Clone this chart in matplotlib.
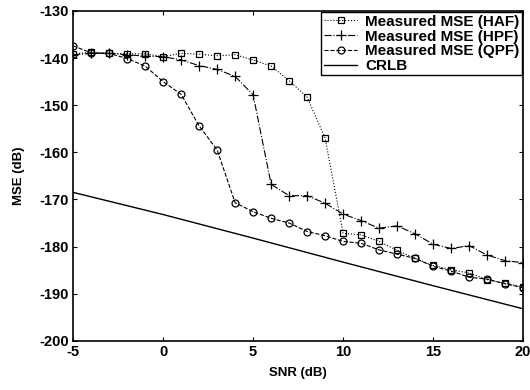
import numpy as np
import matplotlib
matplotlib.use('Agg')
import matplotlib.pyplot as plt

plt.rcParams['font.family'] = ['Liberation Sans', 'DejaVu Sans']
plt.rcParams['font.weight'] = 'bold'
plt.rcParams['axes.unicode_minus'] = False

snr = list(range(-5, 21))

mse_haf = [-139.1, -138.8, -139.0, -139.1, -139.1, -139.7, -139.0, -139.2, -139.5, -139.3,
           -140.4, -141.7, -144.8, -148.3, -157.0, -177.2, -177.5, -178.9, -180.8, -182.5,
           -184.0, -184.9, -185.6, -187.0, -187.8, -188.6]
mse_hpf = [-139.3, -139.0, -139.0, -139.3, -139.6, -139.7, -140.4, -141.6, -142.4, -143.9,
           -147.8, -166.8, -169.2, -169.2, -170.8, -173.1, -174.5, -176.1, -175.6, -177.3,
           -179.5, -180.4, -179.8, -181.8, -183.0, -183.4]
mse_qpf = [-137.4, -138.9, -139.0, -140.1, -141.7, -145.0, -147.7, -154.4, -159.5, -170.7,
           -172.6, -174.0, -175.0, -176.8, -177.7, -178.9, -179.3, -180.7, -181.6, -182.5,
           -184.2, -185.2, -186.5, -186.9, -187.9, -188.7]

crlb_snr = [-5, 0, 5, 10, 15, 20]
crlb = [-168.5, -173.2, -178.2, -183.3, -188.3, -193.2]

fig = plt.figure(figsize=(5.3, 3.9), dpi=100)
ax = fig.add_axes([0.138, 0.126, 0.849, 0.846])

lw = 0.8
ax.plot(snr, mse_haf, ls=':', marker='s', color='k', lw=lw, ms=4.5, mfc='none', mew=0.9,
        label='Measured MSE (HAF)')
ax.plot(snr, mse_hpf, ls='-.', marker='+', color='k', lw=lw, ms=7, mew=0.9,
        label='Measured MSE (HPF)')
ax.plot(snr, mse_qpf, ls='--', marker='o', color='k', lw=lw, ms=5, mfc='none', mew=0.9,
        label='Measured MSE (QPF)')
ax.plot(crlb_snr, crlb, ls='-', color='k', lw=1.0, label='CRLB')

ax.set_xlim(-5, 20)
ax.set_ylim(-200, -130)
ax.set_xticks([-5, 0, 5, 10, 15, 20])
ax.set_yticks(np.arange(-200, -129, 10))
ax.tick_params(direction='in', top=True, right=True, labelsize=10.5, length=3, pad=3)
for s in ax.spines.values():
    s.set_linewidth(1.2)

ax.set_xlabel('SNR (dB)', fontsize=9.5, fontweight='bold', labelpad=6)
ax.set_ylabel('MSE (dB)', fontsize=9.5, fontweight='bold', labelpad=10)

leg = ax.legend(loc='upper right', fontsize=11, handlelength=2.2, handletextpad=0.5,
                borderpad=0.15, labelspacing=0.05, fancybox=False, framealpha=1,
                edgecolor='k', borderaxespad=0.1)
leg.get_frame().set_linewidth(1.0)

plt.savefig('out.png', dpi=100)
